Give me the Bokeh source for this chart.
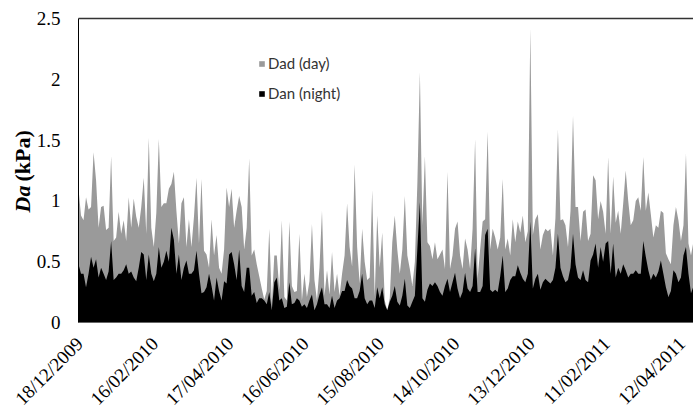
from math import pi
import pandas as pd
from bokeh.plotting import figure
from bokeh.core.properties import value
from bokeh.models import (Range1d, Label, Legend, LegendItem)
from bokeh.embed import file_html
from bokeh.resources import INLINE

# ---- data (one value every 2 days) ----
start_date = "2009-12-18"
step_days = 2

dad_day = [
    1.10, 0.88, 0.84, 1.03, 0.93, 0.95, 1.40, 1.17, 0.78, 0.95,
    0.96, 0.76, 0.78, 1.37, 0.67, 0.70, 0.91, 0.73, 0.84, 0.67,
    1.03, 0.78, 1.02, 0.87, 0.78, 0.95, 1.19, 0.73, 1.52, 0.78,
    0.62, 0.90, 1.51, 0.95, 0.98, 0.98, 1.10, 1.14, 1.24, 0.92,
    0.65, 0.98, 1.03, 0.62, 0.85, 0.62, 0.87, 1.19, 0.65, 1.18,
    0.59, 0.56, 0.45, 0.85, 0.55, 0.72, 0.45, 0.40, 0.60, 1.11,
    0.95, 1.10, 0.78, 0.92, 1.04, 0.95, 0.60, 0.78, 1.35, 0.55,
    0.60, 0.48, 0.38, 0.28, 0.19, 0.26, 0.77, 0.15, 0.55, 0.55,
    0.27, 0.84, 0.21, 0.18, 0.83, 0.30, 0.25, 0.26, 0.73, 0.18,
    0.40, 0.21, 0.34, 0.81, 0.35, 0.18, 0.45, 0.92, 0.22, 0.43,
    0.23, 0.58, 0.25, 0.40, 0.22, 0.40, 0.55, 0.98, 0.62, 0.46,
    1.30, 0.62, 0.32, 0.77, 0.50, 0.35, 0.37, 1.09, 0.21, 0.88,
    0.45, 0.74, 0.18, 0.10, 0.20, 0.66, 0.88, 0.60, 0.40, 0.60,
    1.04, 0.55, 0.44, 0.30, 0.50, 1.15, 2.06, 0.80, 1.37, 0.66,
    0.63, 0.52, 0.66, 0.52, 0.56, 0.60, 0.44, 1.24, 0.44, 0.55,
    0.77, 0.83, 0.55, 0.44, 0.69, 0.60, 0.44, 0.77, 1.51, 0.36,
    0.60, 0.83, 0.85, 1.57, 0.60, 0.77, 0.70, 0.60, 0.70, 1.18,
    0.60, 0.69, 0.55, 0.85, 0.66, 0.83, 0.74, 0.88, 0.66, 0.75,
    2.42, 0.72, 0.85, 0.89, 0.60, 0.72, 0.77, 0.75, 0.77, 0.55,
    0.86, 1.59, 0.84, 0.85, 0.80, 0.62, 0.92, 1.70, 0.95, 0.95,
    0.67, 0.91, 0.93, 0.67, 0.73, 1.21, 1.17, 0.85, 1.00, 0.91,
    0.73, 1.36, 0.73, 1.20, 0.82, 0.92, 0.73, 0.98, 1.25, 1.00,
    0.80, 0.84, 1.00, 1.03, 0.92, 1.36, 0.92, 1.07, 0.89, 0.70,
    0.80, 0.78, 0.92, 0.90, 0.57, 0.52, 0.48, 0.80, 0.95, 0.84,
    0.67, 0.80, 1.39, 0.65, 0.55, 0.67,
]

dan_night = [
    0.48, 0.40, 0.40, 0.29, 0.40, 0.54, 0.45, 0.52, 0.37, 0.45,
    0.40, 0.35, 0.42, 0.67, 0.35, 0.37, 0.40, 0.40, 0.43, 0.48,
    0.40, 0.42, 0.37, 0.34, 0.45, 0.58, 0.56, 0.35, 0.56, 0.40,
    0.34, 0.40, 0.62, 0.45, 0.50, 0.59, 0.50, 0.78, 0.68, 0.40,
    0.56, 0.35, 0.45, 0.51, 0.40, 0.40, 0.43, 0.59, 0.40, 0.24,
    0.25, 0.29, 0.40, 0.30, 0.18, 0.37, 0.26, 0.18, 0.34, 0.32,
    0.56, 0.58, 0.48, 0.35, 0.60, 0.30, 0.25, 0.45, 0.45, 0.22,
    0.25, 0.16, 0.20, 0.20, 0.18, 0.15, 0.25, 0.10, 0.33, 0.37,
    0.18, 0.20, 0.12, 0.13, 0.33, 0.15, 0.16, 0.20, 0.18, 0.13,
    0.15, 0.12, 0.18, 0.23, 0.10, 0.15, 0.23, 0.29, 0.15, 0.15,
    0.12, 0.22, 0.12, 0.18, 0.20, 0.26, 0.26, 0.35, 0.30, 0.28,
    0.20, 0.20, 0.26, 0.40, 0.20, 0.15, 0.18, 0.18, 0.12, 0.29,
    0.20, 0.29, 0.15, 0.10, 0.17, 0.22, 0.30, 0.17, 0.14, 0.22,
    0.36, 0.14, 0.12, 0.17, 0.22, 0.61, 0.99, 0.20, 0.17, 0.27,
    0.32, 0.30, 0.33, 0.30, 0.25, 0.22, 0.30, 0.36, 0.25, 0.33,
    0.41, 0.28, 0.20, 0.25, 0.41, 0.28, 0.25, 0.30, 0.61, 0.25,
    0.25, 0.30, 0.72, 0.77, 0.27, 0.25, 0.27, 0.25, 0.38, 0.55,
    0.25, 0.28, 0.35, 0.38, 0.38, 0.47, 0.41, 0.36, 0.33, 0.40,
    0.83, 0.28, 0.36, 0.40, 0.27, 0.33, 0.36, 0.34, 0.32, 0.35,
    0.45, 0.73, 0.45, 0.38, 0.33, 0.35, 0.45, 0.73, 0.48, 0.37,
    0.35, 0.43, 0.35, 0.33, 0.51, 0.56, 0.65, 0.45, 0.62, 0.50,
    0.65, 0.67, 0.40, 0.65, 0.37, 0.45, 0.40, 0.48, 0.43, 0.37,
    0.40, 0.40, 0.43, 0.40, 0.40, 0.67, 0.54, 0.43, 0.35, 0.40,
    0.37, 0.42, 0.51, 0.40, 0.29, 0.21, 0.26, 0.43, 0.40, 0.33,
    0.37, 0.55, 0.62, 0.40, 0.24, 0.30,
]

tick_labels = ["18/12/2009", "16/02/2010", "17/04/2010", "16/06/2010",
               "15/08/2010", "14/10/2010", "13/12/2010", "11/02/2011",
               "12/04/2011"]
y_ticks = [0, 0.5, 1, 1.5, 2, 2.5]
y_tick_labels = ["0", "0.5", "1", "1.5", "2", "2.5"]
series_names = ["Dad (day)", "Dan (night)"]

# ---- layout constants (pixels) ----
W, H = 693, 410
AXIS_X = 78          # where the value axis sits
TOP_Y = 18           # y pixel of 2.5
ZERO_Y = 322         # y pixel of 0
FRAME_TOP = 8
FRAME_BOTTOM = H

# ---- build ----
dates = pd.date_range(start_date, periods=len(dad_day), freq=f"{step_days}D")
df = pd.DataFrame({"date": dates, "day": dad_day, "night": dan_night, "zero": 0.0})

def ms(ts):
    return pd.Timestamp(ts).value / 1e6

d0, d1 = ms(dates[0]), ms(dates[-1])
ms_per_px = (d1 - d0) / (W - AXIS_X)
y_top = y_ticks[-1]
val_per_px = y_top / (ZERO_Y - TOP_Y)

tick_ms = [ms(pd.to_datetime(t, format="%d/%m/%Y")) for t in tick_labels]

p = figure(width=W, height=H, x_axis_type="datetime",
           x_axis_location=None, y_axis_location=None,
           output_backend="svg", toolbar_location=None,
           min_border_left=0, min_border_right=0, min_border_top=FRAME_TOP,
           min_border_bottom=H - FRAME_BOTTOM)
p.x_range = Range1d(d0 - AXIS_X * ms_per_px, d1)
p.y_range = Range1d(-(FRAME_BOTTOM - ZERO_Y) * val_per_px,
                    y_top + (TOP_Y - FRAME_TOP) * val_per_px)
p.outline_line_color = None
p.xgrid.grid_line_color = None
p.ygrid.grid_line_color = None
p.background_fill_color = "white"
p.border_fill_color = "white"

r_day = p.varea(x="date", y1="zero", y2="day", source=df, fill_color="#9a9a9a")
r_night = p.varea(x="date", y1="zero", y2="night", source=df, fill_color="#000000")

# value axis line and top border of the plot area
p.segment(x0=[d0], y0=[0], x1=[d0], y1=[y_top], line_color="#000000", line_width=1)
p.segment(x0=[d0], y0=[y_top], x1=[d1], y1=[y_top], line_color="#333333", line_width=1.5)

# value axis tick labels
p.text(x=[d0] * len(y_ticks), y=y_ticks, text=y_tick_labels,
       x_offset=-18, text_align="right", text_baseline="middle",
       text_font=value("Liberation Serif"), text_font_size=value("19px"),
       text_color="#000000")

# date axis tick labels (rotated 45 degrees)
p.text(x=tick_ms, y=[0] * len(tick_ms), text=tick_labels,
       angle=pi / 4, x_offset=1, y_offset=18,
       text_align="right", text_baseline="middle",
       text_font=value("Liberation Serif"), text_font_size=value("19px"),
       text_color="#000000")

# y axis title: "Da" bold italic + "(kPa)" bold
p.add_layout(Label(x=22, y=FRAME_BOTTOM - 212, x_units="screen", y_units="screen",
                   text="Da", angle=pi / 2, text_font="Liberation Serif",
                   text_font_style="bold italic", text_font_size="22px",
                   text_baseline="middle", text_align="left", text_color="#000000"))
p.add_layout(Label(x=22, y=FRAME_BOTTOM - 181, x_units="screen", y_units="screen",
                   text="(kPa)", angle=pi / 2, text_font="Liberation Serif",
                   text_font_style="bold", text_font_size="22px",
                   text_baseline="middle", text_align="left", text_color="#000000"))

legend = Legend(items=[LegendItem(label=series_names[0], renderers=[r_day]),
                       LegendItem(label=series_names[1], renderers=[r_night])],
                location=(258, FRAME_BOTTOM - 103), orientation="vertical",
                border_line_color=None, background_fill_alpha=0,
                padding=0, margin=0, spacing=10,
                glyph_width=7, glyph_height=7, label_height=20,
                label_standoff=3,
                label_text_font="Lato", label_text_font_size="15px",
                label_text_color="#333333")
p.add_layout(legend)

open("out.html", "w").write(file_html(p, INLINE))
